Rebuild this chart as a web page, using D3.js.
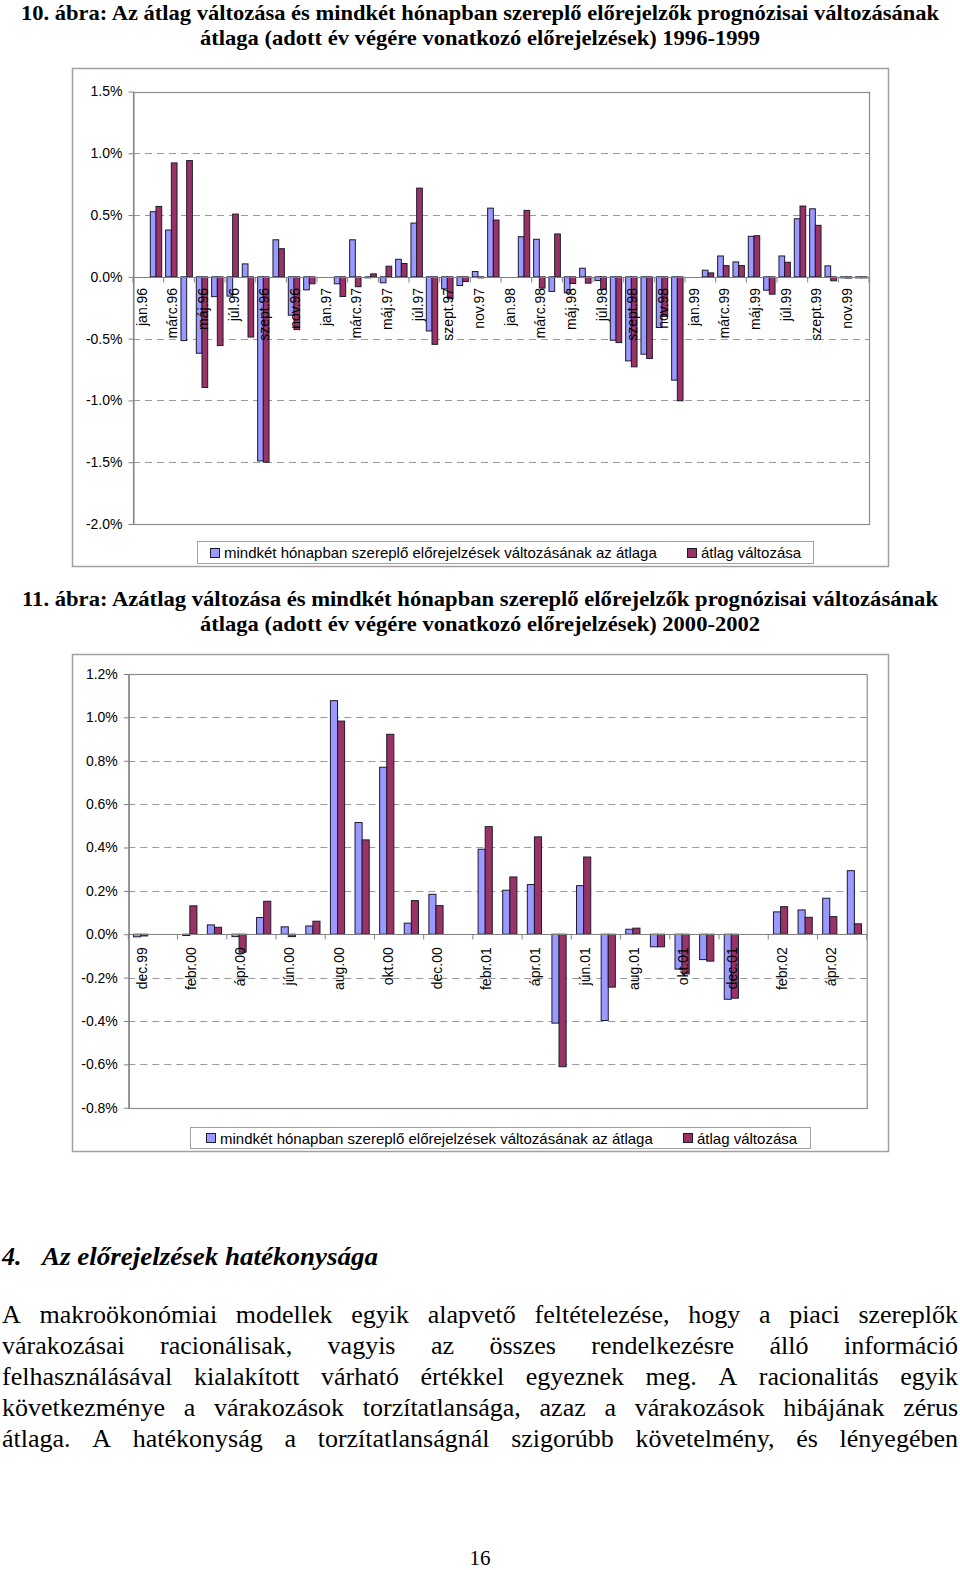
<!DOCTYPE html>
<html><head><meta charset="utf-8">
<script src="https://cdn.jsdelivr.net/npm/d3@7/dist/d3.min.js"></script>
<style>body{margin:0;background:#fff} svg{display:block}</style>
</head><body>
<svg id="page" width="960" height="1570"></svg>
<script>
// ---------- DATA ----------
const categories1 = ["jan.96","febr.96","márc.96","ápr.96","máj.96","jún.96","júl.96","aug.96","szept.96","okt.96","nov.96","dec.96",
 "jan.97","febr.97","márc.97","ápr.97","máj.97","jún.97","júl.97","aug.97","szept.97","okt.97","nov.97","dec.97",
 "jan.98","febr.98","márc.98","ápr.98","máj.98","jún.98","júl.98","aug.98","szept.98","okt.98","nov.98","dec.98",
 "jan.99","febr.99","márc.99","ápr.99","máj.99","jún.99","júl.99","aug.99","szept.99","okt.99","nov.99","dec.99"];
const forecastChange1 = [null,0.527,0.379,-0.516,-0.618,-0.16,-0.156,0.105,-1.49,0.30,-0.31,-0.105,
 null,-0.056,0.30,-0.008,-0.048,0.142,0.435,-0.438,-0.097,-0.07,0.043,0.556,
 null,0.325,0.304,-0.118,-0.129,0.07,-0.03,-0.513,-0.68,-0.626,-0.41,-0.836,
 null,0.054,0.169,0.121,0.328,-0.108,0.169,0.47,0.551,0.089,-0.006,-0.005];
const meanChange1 = [null,0.57,0.922,0.941,-0.895,-0.556,0.508,-0.487,-1.5,0.228,-0.427,-0.056,
 null,-0.159,-0.08,0.024,0.086,0.108,0.718,-0.546,-0.177,-0.038,-0.008,0.46,
 null,0.538,-0.091,0.347,-0.054,-0.051,-0.102,-0.532,-0.728,-0.661,-0.32,-1.003,
 null,0.032,0.091,0.091,0.333,-0.14,0.118,0.573,0.417,-0.032,-0.01,-0.006];
const yTicks1 = [1.5,1.0,0.5,0.0,-0.5,-1.0,-1.5,-2.0];

const categories2 = ["dec.99","jan.00","febr.00","márc.00","ápr.00","máj.00","jún.00","júl.00","aug.00","szept.00","okt.00","nov.00",
 "dec.00","jan.01","febr.01","márc.01","ápr.01","máj.01","jún.01","júl.01","aug.01","szept.01","okt.01","nov.01",
 "dec.01","jan.02","febr.02","márc.02","ápr.02","máj.02"];
const forecastChange2 = [-0.012,null,-0.006,0.043,-0.011,0.077,0.034,0.038,1.077,0.515,0.77,0.051,
 0.184,null,0.392,0.203,0.229,-0.41,0.224,-0.398,0.023,-0.058,-0.161,-0.117,
 -0.3,null,0.103,0.112,0.166,0.293];
const meanChange2 = [-0.008,null,0.131,0.032,-0.083,0.152,-0.011,0.06,0.983,0.435,0.922,0.155,
 0.132,null,0.496,0.264,0.449,-0.611,0.356,-0.244,0.028,-0.058,-0.183,-0.124,
 -0.295,null,0.127,0.078,0.081,0.048];
const yTicks2 = [1.2,1.0,0.8,0.6,0.4,0.2,0.0,-0.2,-0.4,-0.6,-0.8];

const seriesNames = ["mindkét hónapban szereplő előrejelzések változásának az átlaga","átlag változása"];
const seriesColors = ["#9999FF","#993366"];

const title1 = ["10. ábra: Az átlag változása és mindkét hónapban szereplő előrejelzők prognózisai változásának",
  "átlaga (adott év végére vonatkozó előrejelzések) 1996-1999"];
const title2 = ["11. ábra: Azátlag változása és mindkét hónapban szereplő előrejelzők prognózisai változásának",
  "átlaga (adott év végére vonatkozó előrejelzések) 2000-2002"];
const heading = ["4.","Az előrejelzések hatékonysága"];
const paragraph = [
 "A makroökonómiai modellek egyik alapvető feltételezése, hogy a piaci szereplők",
 "várakozásai racionálisak, vagyis az összes rendelkezésre álló információ",
 "felhasználásával kialakított várható értékkel egyeznek meg. A racionalitás egyik",
 "következménye a várakozások torzítatlansága, azaz a várakozások hibájának zérus",
 "átlaga. A hatékonyság a torzítatlanságnál szigorúbb követelmény, és lényegében"];
const pageNumber = "16";

// ---------- DRAWING ----------
const svg = d3.select("#page");
svg.append("rect").attr("width",960).attr("height",1570).attr("fill","#fff");
const SANS = "Liberation Sans, Arial, sans-serif";
const SERIF = "Liberation Serif, Times New Roman, serif";

function drawTitle(lines, baselines, widths) {
  lines.forEach((t,i) => {
    svg.append("text").attr("x",480).attr("y",baselines[i]).attr("text-anchor","middle")
      .attr("font-family",SERIF).attr("font-weight","bold").attr("font-size",22)
      .attr("textLength",widths[i]).attr("lengthAdjust","spacingAndGlyphs").attr("fill","#000").text(t);
  });
}

function drawChart(o) {
  const g = svg.append("g");
  const [fx0,fy0,fx1,fy1] = o.frame;
  g.append("rect").attr("x",fx0+0.5).attr("y",fy0+0.5).attr("width",fx1-fx0).attr("height",fy1-fy0)
    .attr("fill","#fff").attr("stroke","#a0a0a0").attr("stroke-width",1.5);
  const P = o.plot;
  const y = d3.scaleLinear().domain(o.domain).range([P.bottom,P.top]);
  const x = d3.scaleBand().domain(o.cats).range([P.left,P.right]).padding(0);
  const bw = x.bandwidth();
  const off = (bw - 2*o.barW)/2;
  const xs = d3.scaleBand().domain([0,1]).range([off, off+2*o.barW]);

  // gridlines
  g.selectAll(".grid").data(o.ticks.filter(t => t!==0 && t!==o.domain[0] && t!==o.domain[1]))
    .join("line").attr("x1",P.left).attr("x2",P.right)
    .attr("y1",d=>Math.round(y(d))+0.5).attr("y2",d=>Math.round(y(d))+0.5)
    .attr("stroke","#9a9a9a").attr("stroke-width",1).attr("stroke-dasharray","7,5");
  // plot border
  g.append("rect").attr("x",P.left+0.5).attr("y",Math.round(P.top)+0.5)
    .attr("width",P.right-P.left).attr("height",Math.round(P.bottom)-Math.round(P.top))
    .attr("fill","none").attr("stroke","#8c8c8c").attr("stroke-width",1.2);

  // y axis
  const ya = d3.axisLeft(y).tickValues(o.ticks).tickFormat(d=>d.toFixed(1)+"%").tickSize(5).tickSizeOuter(0).tickPadding(6);
  const ag = g.append("g").attr("transform",`translate(${P.left+0.5},0)`).call(ya);
  ag.select(".domain").attr("stroke","#808080");
  ag.selectAll(".tick line").attr("stroke","#808080");
  ag.selectAll(".tick text").attr("font-family",SANS).attr("font-size",14).attr("fill","#000");

  // bars
  const series = [o.s1,o.s2];
  series.forEach((vals,si) => {
    const data = o.cats.map((c,i)=>({c,v:vals[i]})).filter(d=>d.v!==null);
    g.append("g").selectAll("rect").data(data).join("rect")
      .attr("x",d=>x(d.c)+xs(si))
      .attr("width",xs.bandwidth())
      .attr("y",d=>y(Math.max(0,d.v)))
      .attr("height",d=>Math.max(1,Math.abs(y(d.v)-y(0))))
      .attr("fill",seriesColors[si]).attr("stroke","#1b1b2e").attr("stroke-width",1);
  });

  // zero axis line
  const y0 = Math.round(y(0))+0.5;
  g.append("line").attr("x1",P.left).attr("x2",P.right).attr("y1",y0).attr("y2",y0)
    .attr("stroke","#808080").attr("stroke-width",1.2);
  // category ticks every 2 categories
  const tickIdx = d3.range(0,o.cats.length+1,2);
  g.selectAll(".xt").data(tickIdx).join("line")
    .attr("x1",i=>P.left+i*bw).attr("x2",i=>P.left+i*bw).attr("y1",y0).attr("y2",y0+5)
    .attr("stroke","#808080");
  // category labels (every other)
  g.selectAll(".xl").data(o.cats.filter((c,i)=>i%2===0)).join("text")
    .attr("transform",d=>`translate(${x(d)+bw/2+1},${y(0)+o.labelGap}) rotate(-90)`)
    .attr("text-anchor","end").attr("dominant-baseline","central")
    .attr("font-family",SANS).attr("font-size",14).attr("fill","#000").text(d=>d);

  // legend
  const L = o.legend;
  g.append("rect").attr("x",L.x0+0.5).attr("y",L.y0+0.5).attr("width",L.x1-L.x0).attr("height",L.y1-L.y0)
    .attr("fill","#fff").attr("stroke","#a0a0a0");
  const ly = (L.y0+L.y1)/2;
  L.items.forEach((mx,i) => {
    g.append("rect").attr("x",mx+0.5).attr("y",Math.round(ly-4.5)+0.5).attr("width",9).attr("height",9)
      .attr("fill",seriesColors[i]).attr("stroke","#1b1b2e");
    g.append("text").attr("x",mx+14).attr("y",ly+0.5).attr("dominant-baseline","central")
      .attr("font-family",SANS).attr("font-size",15).attr("fill","#000").text(seriesNames[i]);
  });
}

drawTitle(title1,[20,45],[918,560]);
drawChart({frame:[72,68,888,566], plot:{left:133,right:869,top:91.5,bottom:524},
  domain:[-2.0,1.5], ticks:yTicks1, cats:categories1, s1:forecastChange1, s2:meanChange1,
  barW:5.7, labelGap:11, legend:{x0:197,y0:541,x1:813,y1:563,items:[210,687]}});

drawTitle(title2,[606,631],[916,560]);
drawChart({frame:[72,654,888,1151], plot:{left:128.3,right:866.7,top:674,bottom:1107.7},
  domain:[-0.8,1.2], ticks:yTicks2, cats:categories2, s1:forecastChange2, s2:meanChange2,
  barW:7.1, labelGap:13, legend:{x0:190,y0:1127,x1:810,y1:1148,items:[206,683]}});

// heading
svg.append("text").attr("x",2).attr("y",1265).attr("font-family",SERIF).attr("font-weight","bold")
  .attr("font-style","italic").attr("font-size",26).text(heading[0]);
svg.append("text").attr("x",42).attr("y",1265).attr("font-family",SERIF).attr("font-weight","bold")
  .attr("font-style","italic").attr("font-size",26).attr("textLength",336).attr("lengthAdjust","spacingAndGlyphs").text(heading[1]);

// justified paragraph
function justify(line, yBase, x0, x1, size) {
  const words = line.split(" ");
  const tmp = svg.append("text").attr("font-family",SERIF).attr("font-size",size);
  const widths = words.map(w => { tmp.text(w); return tmp.node().getComputedTextLength(); });
  tmp.remove();
  const gap = (x1 - x0 - d3.sum(widths)) / (words.length - 1);
  const te = svg.append("text").attr("font-family",SERIF).attr("font-size",size).attr("fill","#000");
  let cx = x0;
  words.forEach((w,i) => { te.append("tspan").attr("x",cx).attr("y",yBase).text(w); cx += widths[i] + gap; });
}
paragraph.forEach((l,i) => justify(l, 1323 + i*31, 2, 958, 26));

svg.append("text").attr("x",480).attr("y",1565).attr("text-anchor","middle")
  .attr("font-family",SERIF).attr("font-size",21).text(pageNumber);
</script>
</body></html>
